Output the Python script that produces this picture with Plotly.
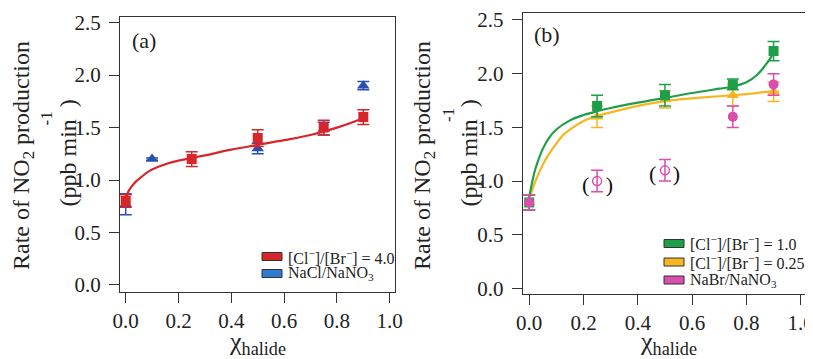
import plotly.graph_objects as go

# ---------------- data: panel (a) ----------------
a_red_x = [0.0, 0.25, 0.5, 0.75, 0.9]
a_red_y = [0.80, 1.20, 1.40, 1.50, 1.60]
a_red_err = [0.06, 0.07, 0.08, 0.07, 0.07]

a_blue_x = [0.0, 0.1, 0.5, 0.75, 0.9]
a_blue_y = [0.77, 1.20, 1.30, 1.49, 1.90]
a_blue_err = [0.10, 0.01, 0.05, 0.06, 0.04]

a_fit_x = [0.0, 0.005, 0.01, 0.02, 0.04, 0.06, 0.08, 0.10, 0.15, 0.20, 0.25, 0.30,
           0.40, 0.50, 0.60, 0.70, 0.80, 0.90]
a_fit_y = [0.82, 0.86, 0.89, 0.93, 0.99, 1.03, 1.07, 1.10, 1.15, 1.185, 1.21, 1.235,
           1.29, 1.335, 1.38, 1.43, 1.50, 1.59]

# ---------------- data: panel (b) ----------------
b_green_x = [0.0, 0.25, 0.5, 0.75, 0.9]
b_green_y = [0.80, 1.70, 1.80, 1.90, 2.21]
b_green_err = [0.07, 0.10, 0.10, 0.05, 0.09]

b_orange_x = [0.0, 0.25, 0.5, 0.75, 0.9]
b_orange_y = [0.80, 1.60, 1.76, 1.80, 1.83]
b_orange_err = [0.07, 0.10, 0.08, 0.10, 0.09]

b_mag_x = [0.0, 0.75, 0.9]
b_mag_y = [0.80, 1.60, 1.90]
b_mag_err = [0.07, 0.10, 0.10]

b_mag_open_x = [0.25, 0.5]
b_mag_open_y = [1.00, 1.10]
b_mag_open_err = [0.10, 0.10]

b_green_fit_x = [0.0, 0.01, 0.02, 0.03, 0.05, 0.075, 0.10, 0.15, 0.20, 0.25, 0.30, 0.40,
                 0.50, 0.60, 0.70, 0.75, 0.80, 0.84, 0.87, 0.89, 0.90]
b_green_fit_y = [0.85, 0.98, 1.09, 1.17, 1.30, 1.41, 1.48, 1.565, 1.615, 1.65, 1.68, 1.73,
                 1.775, 1.82, 1.86, 1.88, 1.92, 1.99, 2.08, 2.15, 2.20]

b_orange_fit_x = [0.0, 0.01, 0.02, 0.04, 0.06, 0.08, 0.10, 0.125, 0.15, 0.20, 0.25, 0.30,
                  0.40, 0.50, 0.60, 0.70, 0.80, 0.90, 0.92]
b_orange_fit_y = [0.82, 0.91, 0.98, 1.10, 1.20, 1.28, 1.35, 1.43, 1.48, 1.56, 1.605, 1.64,
                  1.70, 1.745, 1.77, 1.79, 1.81, 1.835, 1.83]

tick_vals_x = [0.0, 0.2, 0.4, 0.6, 0.8, 1.0]
tick_text_x = ["0.0", "0.2", "0.4", "0.6", "0.8", "1.0"]
tick_vals_y = [0.0, 0.5, 1.0, 1.5, 2.0, 2.5]
tick_text_y = ["0.0", "0.5", "1.0", "1.5", "2.0", "2.5"]

legend_a = ["[Cl<sup>−</sup>]/[Br<sup>−</sup>] = 4.0", "NaCl/NaNO<sub>3</sub>"]
legend_b = ["[Cl<sup>−</sup>]/[Br<sup>−</sup>] = 1.0", "[Cl<sup>−</sup>]/[Br<sup>−</sup>] = 0.25",
            "NaBr/NaNO<sub>3</sub>"]

# ---------------- styles ----------------
OFF = 8  # page body margin
W, H = 813 - OFF, 359 - OFF
FONT = "Liberation Serif, Times New Roman, Times, serif"
RED = "#d7262b"
BLUE = "#2a4fb3"
BLUE_LEG = "#2e7bcf"
GREEN = "#1f9e4a"
ORANGE = "#f7b521"
MAG = "#d84fae"
AXC = "#333333"


def px(xp):
    return (xp - OFF) / W


def py(yp):
    return 1 - (yp - OFF) / H


fig = go.Figure()


def err(vals, color):
    return dict(type="data", array=vals, visible=True, color=color, thickness=1.5, width=6)


# panel (a)
fig.add_trace(go.Scatter(x=a_blue_x, y=a_blue_y, mode="markers", xaxis="x", yaxis="y",
                         marker=dict(symbol="triangle-up", size=11, color=BLUE),
                         error_y=err(a_blue_err, BLUE), showlegend=False))
fig.add_trace(go.Scatter(x=a_fit_x, y=a_fit_y, mode="lines", line=dict(color=RED, width=2.2, shape="spline"),
                         xaxis="x", yaxis="y", showlegend=False))
fig.add_trace(go.Scatter(x=a_red_x, y=a_red_y, mode="markers", xaxis="x", yaxis="y",
                         marker=dict(symbol="square", size=10, color=RED),
                         error_y=err(a_red_err, RED), showlegend=False))

# panel (b)
fig.add_trace(go.Scatter(x=b_mag_open_x, y=b_mag_open_y, mode="markers", xaxis="x2", yaxis="y2",
                         marker=dict(symbol="circle-open", size=9, color=MAG, line=dict(width=1.5)),
                         error_y=err(b_mag_open_err, MAG), showlegend=False))
fig.add_trace(go.Scatter(x=b_orange_fit_x, y=b_orange_fit_y, mode="lines", line=dict(color=ORANGE, width=2.2, shape="spline"),
                         xaxis="x2", yaxis="y2", showlegend=False))
fig.add_trace(go.Scatter(x=b_orange_x, y=b_orange_y, mode="markers", xaxis="x2", yaxis="y2",
                         marker=dict(symbol="triangle-up", size=11, color=ORANGE),
                         error_y=err(b_orange_err, ORANGE), showlegend=False))
fig.add_trace(go.Scatter(x=b_green_fit_x, y=b_green_fit_y, mode="lines", line=dict(color=GREEN, width=2.2, shape="spline"),
                         xaxis="x2", yaxis="y2", showlegend=False))
fig.add_trace(go.Scatter(x=b_green_x, y=b_green_y, mode="markers", xaxis="x2", yaxis="y2",
                         marker=dict(symbol="square", size=10, color=GREEN),
                         error_y=err(b_green_err, GREEN), showlegend=False))
fig.add_trace(go.Scatter(x=b_mag_x, y=b_mag_y, mode="markers", xaxis="x2", yaxis="y2",
                         marker=dict(symbol="circle", size=10, color=MAG),
                         error_y=err(b_mag_err, MAG), showlegend=False))

axis_common = dict(showline=True, linecolor=AXC, linewidth=1.2, mirror=True, ticks="outside",
                   ticklen=10, tickwidth=1.2, tickcolor=AXC, showgrid=False, zeroline=False,
                   automargin=False, ticklabeloverflow="allow",
                   tickfont=dict(family=FONT, size=21, color="#222222"))

fig.update_layout(
    width=W, height=H, margin=dict(l=0, r=0, t=0, b=0, autoexpand=False),
    font=dict(family=FONT),
    paper_bgcolor="white", plot_bgcolor="white", showlegend=False,
    xaxis=dict(domain=[px(120), px(395)], range=[-0.0216, 1.020], anchor="y",
               tickvals=tick_vals_x, ticktext=tick_text_x, **axis_common),
    yaxis=dict(domain=[py(291.7), py(16.7)], range=[-0.064, 2.557], anchor="x",
               tickvals=tick_vals_y, ticktext=tick_text_y, ticklabelstandoff=4, **axis_common),
    xaxis2=dict(domain=[px(522.7), px(806)], range=[-0.024, 1.0195], anchor="y2",
                tickvals=tick_vals_x, ticktext=tick_text_x, **axis_common),
    yaxis2=dict(domain=[py(294), py(13.3)], range=[-0.051, 2.562], anchor="x2",
                tickvals=tick_vals_y, ticktext=tick_text_y, ticklabelstandoff=4, **axis_common),
)

ann = []
shapes = []
TXT = "#222222"

# y titles (two lines, with the raised "-1" as in the reference)
for x1, x2, xs, ys in [(23, 67, 46, 118.5), (424, 468, 449, 115)]:
    ann.append(dict(x=px(x1), y=py(156), xref="paper", yref="paper", showarrow=False, textangle=-90,
                    text="Rate of NO<sub>2</sub> production", font=dict(family=FONT, size=24, color=TXT),
                    xanchor="center", yanchor="middle"))
    ann.append(dict(x=px(x2), y=py(153.5), xref="paper", yref="paper", showarrow=False, textangle=-90,
                    text="(ppb min  )", font=dict(family=FONT, size=24, color=TXT),
                    xanchor="center", yanchor="middle"))
    ann.append(dict(x=px(xs), y=py(ys), xref="paper", yref="paper", showarrow=False, textangle=-90,
                    text="-1", font=dict(family=FONT, size=17, color=TXT),
                    xanchor="center", yanchor="middle"))

# x titles
for xc in [258, 668]:
    ann.append(dict(x=px(xc), y=py(343), xref="paper", yref="paper", showarrow=False,
                    text="χ<sub>halide</sub>", font=dict(family=FONT, size=26, color=TXT),
                    xanchor="center", yanchor="middle"))

# panel labels
ann.append(dict(x=px(130), y=py(40), xref="paper", yref="paper", showarrow=False, text="(a)",
                font=dict(family=FONT, size=22, color=TXT), xanchor="left", yanchor="middle"))
ann.append(dict(x=px(532), y=py(34), xref="paper", yref="paper", showarrow=False, text="(b)",
                font=dict(family=FONT, size=22, color=TXT), xanchor="left", yanchor="middle"))

# parentheses around open points
for xv, yv in zip(b_mag_open_x, b_mag_open_y):
    ann.append(dict(x=xv, y=yv, xref="x2", yref="y2", showarrow=False, text="(   )",
                    font=dict(family=FONT, size=22, color="#111111"), xanchor="center",
                    yanchor="middle", yshift=-3))

# custom legends
def legend(x0, rows, labels, colors):
    for yc, lab, col in zip(rows, labels, colors):
        shapes.append(dict(type="rect", xref="paper", yref="paper", x0=px(x0), x1=px(x0 + 20),
                           y0=py(yc + 4), y1=py(yc - 4), fillcolor=col,
                           line=dict(color="#333333", width=1)))
        ann.append(dict(x=px(x0 + 24), y=py(yc), xref="paper", yref="paper", showarrow=False,
                        text=lab, font=dict(family=FONT, size=16, color=TXT),
                        xanchor="left", yanchor="middle"))


legend(262, [256.5, 273.5], legend_a, [RED, BLUE_LEG])
legend(664, [243.5, 262, 280], legend_b, [GREEN, ORANGE, MAG])

fig.update_layout(annotations=ann, shapes=shapes)
fig.write_html("out.html")
